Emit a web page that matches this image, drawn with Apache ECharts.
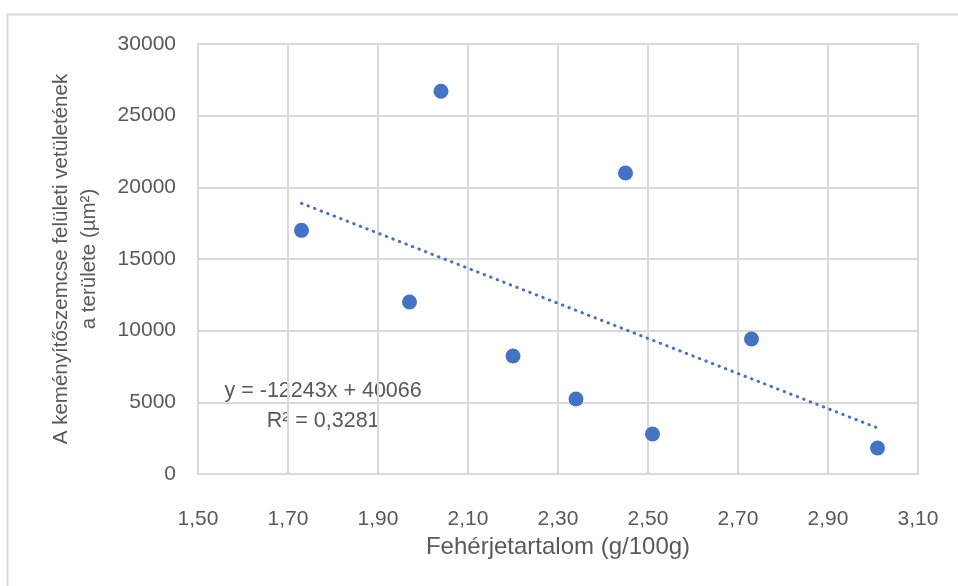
<!DOCTYPE html>
<html>
<head>
<meta charset="utf-8">
<script src="https://cdn.jsdelivr.net/npm/echarts@6/dist/echarts.min.js"></script>
<style>
html,body{margin:0;padding:0;background:#fff;}
#chart{width:958px;height:586px;}
</style>
</head>
<body>
<div id="chart"></div>
<script>
// Data
const proteinX = [1.73, 2.04, 1.97, 2.20, 2.34, 2.45, 2.51, 2.73, 3.01];
const areaY = [17000, 26700, 12000, 8230, 5230, 21000, 2790, 9420, 1810];
const trendSlope = -12243;
const trendIntercept = 40066;
const equationText = 'y = -12243x + 40066';
const r2Text = 'R² = 0,3281';
const xTitle = 'Fehérjetartalom (g/100g)';
const yTitle = 'A keményítőszemcse felületi vetületének\na területe (µm²)';

const points = proteinX.map((x, i) => [x, areaY[i]]);
const xMin = Math.min(...proteinX), xMax = Math.max(...proteinX);
const trend = [[xMin, trendSlope * xMin + trendIntercept], [xMax, trendSlope * xMax + trendIntercept]];

const FONT = '"Liberation Sans", Arial, sans-serif';
const TXT = '#595959';
const GRID = '#d9d9d9';
const BLUE = '#4472C4';

const chart = echarts.init(document.getElementById('chart'), null, {renderer: 'canvas'});
chart.setOption({
  animation: false,
  backgroundColor: '#fff',
  graphic: [{
    type: 'rect',
    shape: {x: 7.5, y: 14.5, width: 1000, height: 700},
    style: {fill: 'none', stroke: '#d9d9d9', lineWidth: 2},
    silent: true
  }],
  grid: {left: 198, right: 40, top: 44, bottom: 112, show: true, borderColor: GRID, borderWidth: 2, backgroundColor: 'transparent'},
  xAxis: {
    type: 'value', min: 1.5, max: 3.1, interval: 0.2,
    name: xTitle, nameLocation: 'middle', nameGap: 60,
    nameTextStyle: {color: TXT, fontSize: 24, fontFamily: FONT},
    axisLine: {show: false}, axisTick: {show: false},
    axisLabel: {color: TXT, fontSize: 21, fontFamily: FONT, margin: 35,
      formatter: v => v.toFixed(2).replace('.', ',')},
    splitLine: {show: true, lineStyle: {color: GRID, width: 2}}
  },
  yAxis: {
    type: 'value', min: 0, max: 30000, interval: 5000,
    name: yTitle, nameLocation: 'middle', nameGap: 95, nameRotate: 90,
    nameTextStyle: {color: TXT, fontSize: 20.5, fontFamily: FONT, lineHeight: 28, align: 'center'},
    axisLine: {show: false}, axisTick: {show: false},
    axisLabel: {color: TXT, fontSize: 21, fontFamily: FONT, margin: 22,
      formatter: v => String(v)},
    splitLine: {show: true, lineStyle: {color: GRID, width: 2}}
  },
  series: [{
    type: 'line',
    data: trend,
    symbol: 'none',
    lineStyle: {color: BLUE, width: 3, type: [0.5, 6.5], cap: 'round'},
    silent: true,
    z: 2
  }, {
    type: 'scatter',
    data: points,
    symbol: 'circle',
    symbolSize: 15,
    itemStyle: {color: BLUE, opacity: 1},
    z: 3
  }]
});

// Equation label anchored to data coordinates
const eqPos = chart.convertToPixel({gridIndex: 0}, [1.778, 6840]);
chart.setOption({
  graphic: [{}, {
    type: 'text',
    x: eqPos[0], y: eqPos[1],
    style: {
      text: equationText + '\n' + r2Text,
      fill: TXT, font: '21.5px ' + FONT, align: 'center', verticalAlign: 'top', lineHeight: 30
    },
    silent: true
  }]
});
</script>
</body>
</html>
